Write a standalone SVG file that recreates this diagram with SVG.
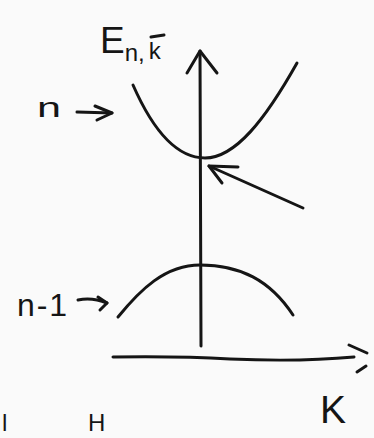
<svg xmlns="http://www.w3.org/2000/svg" width="374" height="438" viewBox="0 0 374 438">
<style>
.ink{fill:none;stroke:#151515;stroke-width:3;stroke-linecap:round;stroke-linejoin:round}
.lbl{font-family:"Liberation Sans",Arial,sans-serif;fill:#151515}
</style>
<rect x="0" y="0" width="374" height="438" fill="#fafafa"/>
<g id="connectors">
<g id="energy-axis">
<path class="ink" d="M201,346 L200,51"/>
<path class="ink" d="M187,73 L200,51 L217,73"/>
</g>
<g id="k-axis">
<path class="ink" d="M113,357 Q180,356 230,359 Q300,362 354,357"/>
<path class="ink" d="M349,345 L367,353"/>
<path class="ink" d="M357,372 L366,366"/>
</g>
<g id="pointer-arrow">
<path class="ink" d="M303,208 L209,166"/>
<path class="ink" d="M238,167 L209,166 L222,183"/>
</g>
<g id="n-arrow">
<path class="ink" d="M77,112 L112,113"/>
<path class="ink" d="M95,106 L112,113 L97,120"/>
</g>
<g id="n1-arrow">
<path class="ink" d="M78,300 Q92,297 107,303"/>
<path class="ink" d="M98,297 L107,303 L100,310"/>
</g>
</g>
<g id="band-n">
<path class="ink" d="M133,85 C155,135 180,158 205,158 C235,158 265,120 297,63"/>
</g>
<g id="band-n-1">
<path class="ink" d="M118,317 C140,290 165,265 200,265 C240,265 270,280 293,315"/>
</g>
<g id="label-E">
<text class="lbl" x="100" y="53" font-size="37">E<tspan font-size="24" dy="8">n,</tspan><tspan font-size="24" dx="4" dy="-2">k</tspan></text>
<path class="ink" d="M151,37 L164,35" stroke-width="2.5"/>
</g>
<g id="label-n">
<text class="lbl" x="37" y="117" font-size="28" textLength="24" lengthAdjust="spacingAndGlyphs">n</text>
</g>
<g id="label-n-1">
<text class="lbl" x="17" y="316" font-size="32" textLength="50" lengthAdjust="spacing">n-1</text>
</g>
<g id="label-K">
<text class="lbl" x="320" y="423" font-size="39">K</text>
</g>
<g id="cut-text">
<text class="lbl" x="2" y="431" font-size="24">l</text>
<text class="lbl" x="88" y="431" font-size="24">H</text>
</g>
</svg>
